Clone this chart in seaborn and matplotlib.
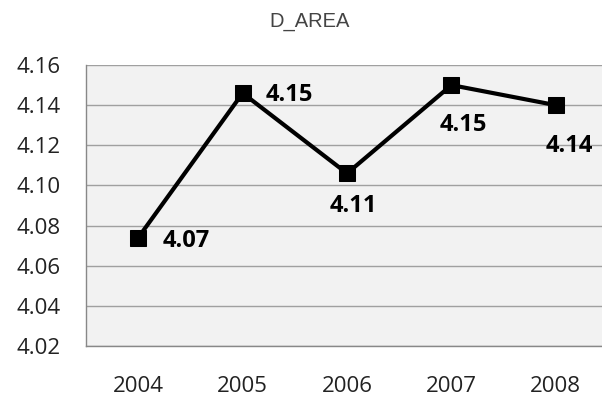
import pandas as pd
import seaborn as sns
import matplotlib.pyplot as plt

years = ["2004", "2005", "2006", "2007", "2008"]
values = [4.074, 4.146, 4.106, 4.150, 4.140]
labels = ["4.07", "4.15", "4.11", "4.15", "4.14"]
yticks = [4.02, 4.04, 4.06, 4.08, 4.10, 4.12, 4.14, 4.16]

df = pd.DataFrame({"year": years, "value": values})
df["pos"] = range(len(years))

sns.set_style("white")
plt.rcParams["font.family"] = ["Open Sans", "DejaVu Sans"]

fig = plt.figure(figsize=(6.02, 3.99), dpi=100)
ax = fig.add_axes([0.143, 0.133, 0.867, 0.704])
ax.set_facecolor("#f2f2f2")

sns.lineplot(data=df, x="pos", y="value", ax=ax, color="black", linewidth=3,
             marker="s", markersize=11, markeredgecolor="black")

# data labels (offsets in pixels from the point)
offsets = [(24, 0, "left"), (23, 1, "left"),
           (6, -30, "center"), (12, -37, "center"), (13, -38, "center")]
for i, (dx, dy, ha) in enumerate(offsets):
    ax.annotate(labels[i], (i, values[i]), xytext=(dx, dy), textcoords="offset pixels",
                ha=ha, va="center_baseline", fontsize=17, fontweight="bold", color="black")

ax.set_xlim(-0.5, 4.5)
ax.set_ylim(4.02, 4.16)
ax.set_yticks(yticks)
ax.set_yticklabels([f"{t:.2f}" for t in yticks], fontsize=16, color="#222222")
ax.set_xticks(range(len(years)))
ax.set_xticklabels(years, fontsize=16, color="#222222")
ax.set_xticks([i - 0.5 for i in range(len(years) + 1)], minor=True)
ax.tick_params(axis="x", which="major", length=0, pad=22)
ax.tick_params(axis="x", which="minor", length=6, width=1, color="#888888", direction="out")
ax.tick_params(axis="y", length=6.5, width=1, color="#888888", direction="out", pad=12)
ax.yaxis.grid(True, color="#a0a0a0", linewidth=1)
ax.set_axisbelow(True)

for side in ["top", "right"]:
    ax.spines[side].set_visible(False)
for side in ["left", "bottom"]:
    ax.spines[side].set_color("#888888")
    ax.spines[side].set_linewidth(1)

ax.set_xlabel("")
ax.set_ylabel("")
fig.text(0.515, 0.945, "D_AREA", ha="center", va="center", fontsize=14.5, color="#444444",
         family="Liberation Sans")

fig.savefig("out.png", dpi=100)
